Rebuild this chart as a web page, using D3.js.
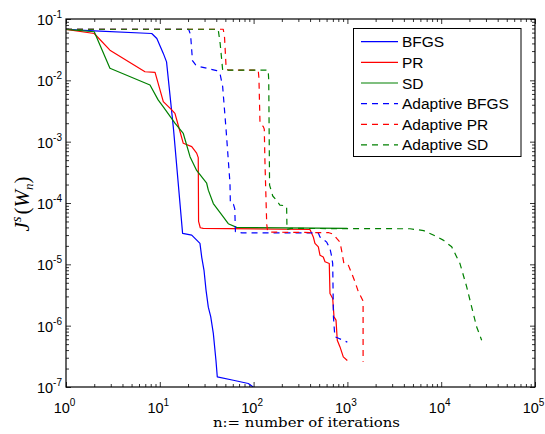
<!DOCTYPE html>
<html><head><meta charset="utf-8">
<script src="https://cdn.jsdelivr.net/npm/d3@7/dist/d3.min.js"></script>
<style>body{margin:0;background:#fff}</style>
</head><body>
<svg id="c" width="545" height="434"></svg>
<script>
// ---- data (n = iteration, J = objective value) ----
const seriesNames = ["BFGS","PR","SD","Adaptive BFGS","Adaptive PR","Adaptive SD"];

const bfgsN = [1, 2, 8.2, 9.3, 10.9, 11.8, 14, 17.5, 21.9, 26.8, 28.0, 29.6, 31.1, 32.9, 34.9, 37.2, 39.7, 41.0, 60.8, 87.8, 99];
const bfgsJ = [0.068, 0.064, 0.058, 0.048, 0.0275, 0.020, 1.6e-3, 3.2e-5, 3.0e-5, 2.2e-5, 1.3e-5, 8.0e-6, 3.8e-6, 2.0e-6, 1.4e-6, 7.5e-7, 2.7e-7, 1.46e-7, 1.29e-7, 1.14e-7, 1.0e-7];

const prN = [1, 2, 2.94, 6.95, 8.9, 10.9, 13.4, 14.5, 15.7, 17.8, 21.9, 24.7, 25.7, 25.9, 27.0, 29.0, 399, 433, 451, 490, 510, 553, 577, 641, 652, 697, 720, 756, 780, 834, 904, 998];
const prJ = [0.068, 0.058, 0.031, 0.0138, 0.0135, 4.5e-3, 3.3e-3, 2.9e-3, 1.87e-3, 9.4e-4, 8.3e-4, 6.5e-4, 5.5e-4, 5.0e-5, 3.95e-5, 3.85e-5, 3.7e-5, 2.8e-5, 2.2e-5, 1.93e-5, 1.41e-5, 1.32e-5, 1.1e-5, 1.03e-5, 3.35e-6, 2.78e-6, 1.39e-6, 1.23e-6, 5.8e-7, 4.5e-7, 3.1e-7, 2.7e-7];

const sdN = [1, 2, 2.94, 7.86, 9.6, 10.9, 14.5, 17.8, 21.0, 24.7, 31.6, 32.9, 37.2, 47.5, 53.7, 66, 1000];
const sdJ = [0.068, 0.062, 0.0157, 8.4e-3, 4.8e-3, 3.7e-3, 2.0e-3, 1.36e-3, 5.7e-4, 3.4e-4, 2.1e-4, 1.62e-4, 9.8e-5, 5.96e-5, 4.6e-5, 4.0e-5, 3.85e-5];

const aBfgsN = [1, 20.3, 21.3, 22.3, 24, 26.8, 40.4, 44, 46.8, 51, 56, 56.5, 61, 63, 64, 75, 490, 510, 602, 652, 675, 697, 710, 735, 792, 998];
const aBfgsJ = [0.068, 0.068, 0.055, 0.021, 0.018, 0.0167, 0.0144, 0.0125, 7.9e-3, 1.5e-3, 2.1e-4, 1.0e-4, 9.5e-5, 8.0e-5, 3.4e-5, 3.25e-5, 3.25e-5, 2.8e-5, 2.3e-5, 1.8e-5, 1.41e-5, 1.03e-5, 1.39e-6, 6.6e-7, 6.3e-7, 5.4e-7];

const aPrN = [1, 47.5, 49, 51, 53.5, 112, 114, 117, 127, 130, 132, 138, 141, 145, 400, 626, 707, 769, 834, 866, 918, 1020, 1112, 1205, 1306, 1456, 1470, 1470];
const aPrJ = [0.068, 0.068, 0.05, 0.0155, 0.0147, 0.0147, 0.0108, 2.0e-3, 1.76e-3, 1.6e-3, 5.0e-4, 4.5e-5, 3.5e-5, 3.35e-5, 3.3e-5, 3.3e-5, 3.1e-5, 2.65e-5, 2.3e-5, 1.7e-5, 1.03e-5, 9.8e-6, 7.1e-6, 5.2e-6, 3.6e-6, 2.6e-6, 2.4e-6, 2.57e-7];

const aSdN = [1, 41.9, 44, 46.8, 143, 145, 148, 160, 176, 191, 222, 225, 227, 250, 4650, 6500, 8240, 10520, 12940, 15850, 18700, 21140, 23900, 27000];
const aSdJ = [0.068, 0.068, 0.04, 0.0147, 0.0147, 0.01, 1.96e-4, 1.3e-4, 1.1e-4, 9.2e-5, 9.0e-5, 8.5e-5, 3.7e-5, 3.85e-5, 3.8e-5, 3.55e-5, 3.0e-5, 2.48e-5, 1.93e-5, 1.03e-5, 4.3e-6, 2.0e-6, 9.5e-7, 5.8e-7];

const xTickExps = [0, 1, 2, 3, 4, 5];
const yTickExps = [-7, -6, -5, -4, -3, -2, -1];
const xLabelText = "n:= number of iterations";

// ---- build ----
const series = [
  {name: seriesNames[0], n: bfgsN, J: bfgsJ, color: "#0000ff", dash: null},
  {name: seriesNames[1], n: prN, J: prJ, color: "#ff0000", dash: null},
  {name: seriesNames[2], n: sdN, J: sdJ, color: "#008000", dash: null},
  {name: seriesNames[3], n: aBfgsN, J: aBfgsJ, color: "#0000ff", dash: "6,5"},
  {name: seriesNames[4], n: aPrN, J: aPrJ, color: "#ff0000", dash: "6,5"},
  {name: seriesNames[5], n: aSdN, J: aSdJ, color: "#008000", dash: "6,5"}
];

const svg = d3.select("#c");
const L = 66, R = 535, T = 19, B = 387;
const x = d3.scaleLog().domain([1, 1e5]).range([L, R]);
const y = d3.scaleLog().domain([1e-7, 1e-1]).range([B, T]);

svg.append("rect").attr("width", 545).attr("height", 434).attr("fill", "#fff");

svg.append("clipPath").attr("id", "clip").append("rect")
  .attr("x", L).attr("y", T).attr("width", R - L).attr("height", B - T);

const xMajors = xTickExps.map(e => Math.pow(10, e));
const yMajors = yTickExps.map(e => Math.pow(10, e));
const minorsOf = (lo, hi) => {
  const out = [];
  for (let e = lo; e < hi; e++) for (let k = 2; k <= 9; k++) out.push(k * Math.pow(10, e));
  return out;
};
const xMinors = minorsOf(0, 5);
const yMinors = minorsOf(-7, -1);

function tickAxis(axisFn, scale, values, size, transform) {
  const g = svg.append("g").attr("transform", transform)
    .call(axisFn(scale).tickValues(values).tickSize(-size).tickSizeOuter(0).tickFormat(() => ""));
  g.select(".domain").remove();
  g.selectAll(".tick line").attr("stroke", "#000").attr("stroke-width", 0.8);
  g.selectAll(".tick text").remove();
  return g;
}

// ticks on all four sides (inward)
const gxb = tickAxis(d3.axisBottom, x, xMajors, 5, `translate(0,${B})`);
tickAxis(d3.axisBottom, x, xMinors, 3, `translate(0,${B})`);
tickAxis(d3.axisTop, x, xMajors, 5, `translate(0,${T})`);
tickAxis(d3.axisTop, x, xMinors, 3, `translate(0,${T})`);
const gyl = tickAxis(d3.axisLeft, y, yMajors, 5, `translate(${L},0)`);
tickAxis(d3.axisLeft, y, yMinors, 3, `translate(${L},0)`);
tickAxis(d3.axisRight, y, yMajors, 5, `translate(${R},0)`);
tickAxis(d3.axisRight, y, yMinors, 3, `translate(${R},0)`);

const tickFont = "'Liberation Sans', Arial, Helvetica, sans-serif";
// x tick labels
gxb.selectAll(".tick").each(function(d) {
  const t = d3.select(this).append("text")
    .attr("x", -2).attr("y", 25.5).attr("text-anchor", "middle")
    .attr("fill", "#000").attr("font-family", tickFont).attr("font-size", 14.5);
  t.append("tspan").text("10");
  t.append("tspan").attr("font-size", 10).attr("dy", -7).text(String(Math.round(Math.log10(d))));
});
// y tick labels
gyl.selectAll(".tick").each(function(d) {
  const t = d3.select(this).append("text")
    .attr("x", -4).attr("y", 5.5).attr("text-anchor", "end")
    .attr("fill", "#000").attr("font-family", tickFont).attr("font-size", 14.5);
  t.append("tspan").text("10");
  t.append("tspan").attr("font-size", 10).attr("dy", -7).text(String(Math.round(Math.log10(d))));
});

// lines
const line = d3.line().x(d => x(d[0])).y(d => y(d[1]));
const plot = svg.append("g").attr("clip-path", "url(#clip)");
series.forEach(s => {
  const pts = s.n.map((v, i) => [v, s.J[i]]);
  plot.append("path").datum(pts)
    .attr("d", line)
    .attr("fill", "none")
    .attr("stroke", s.color)
    .attr("stroke-width", 1.2)
    .attr("stroke-linejoin", "round")
    .attr("stroke-dasharray", s.dash);
});

// frame
svg.append("rect").attr("x", L).attr("y", T).attr("width", R - L).attr("height", B - T)
  .attr("fill", "none").attr("stroke", "#000").attr("stroke-width", 1.2);

// legend
const lg = svg.append("g");
lg.append("rect").attr("x", 353.5).attr("y", 28.5).attr("width", 167.5).attr("height", 128)
  .attr("fill", "#fff").attr("stroke", "#000").attr("stroke-width", 1);
series.forEach((s, i) => {
  const cy = 41.7 + i * 20.65;
  lg.append("line").attr("x1", 361).attr("x2", 398).attr("y1", cy).attr("y2", cy)
    .attr("stroke", s.color).attr("stroke-width", 1.2).attr("stroke-dasharray", s.dash);
  lg.append("text").attr("x", 402).attr("y", cy + 5.5).attr("font-family", tickFont)
    .attr("font-size", 15.5).attr("fill", "#000").text(s.name);
});

// x label
svg.append("text").attr("x", 306.5).attr("y", 427).attr("text-anchor", "middle")
  .attr("font-family", "'DejaVu Serif', 'Liberation Serif', serif").attr("font-size", 12.5)
  .attr("textLength", 187).attr("lengthAdjust", "spacingAndGlyphs")
  .attr("fill", "#000").text(xLabelText);

// y label  J^s(W_n)
const yl = svg.append("text").attr("transform", "translate(29,204) rotate(-90)")
  .attr("text-anchor", "middle").attr("font-family", "'Liberation Serif', 'DejaVu Serif', serif")
  .attr("font-size", 21).attr("fill", "#000");
yl.append("tspan").attr("font-style", "italic").text("J");
yl.append("tspan").attr("font-style", "italic").attr("font-size", 14).attr("dy", -8).text("s");
yl.append("tspan").attr("dy", 8).attr("dx", 2).text("(");
yl.append("tspan").attr("font-style", "italic").text("W");
yl.append("tspan").attr("font-style", "italic").attr("font-size", 13).attr("dy", 4).text("n");
yl.append("tspan").attr("dy", -4).text(")");
</script>
</body></html>
